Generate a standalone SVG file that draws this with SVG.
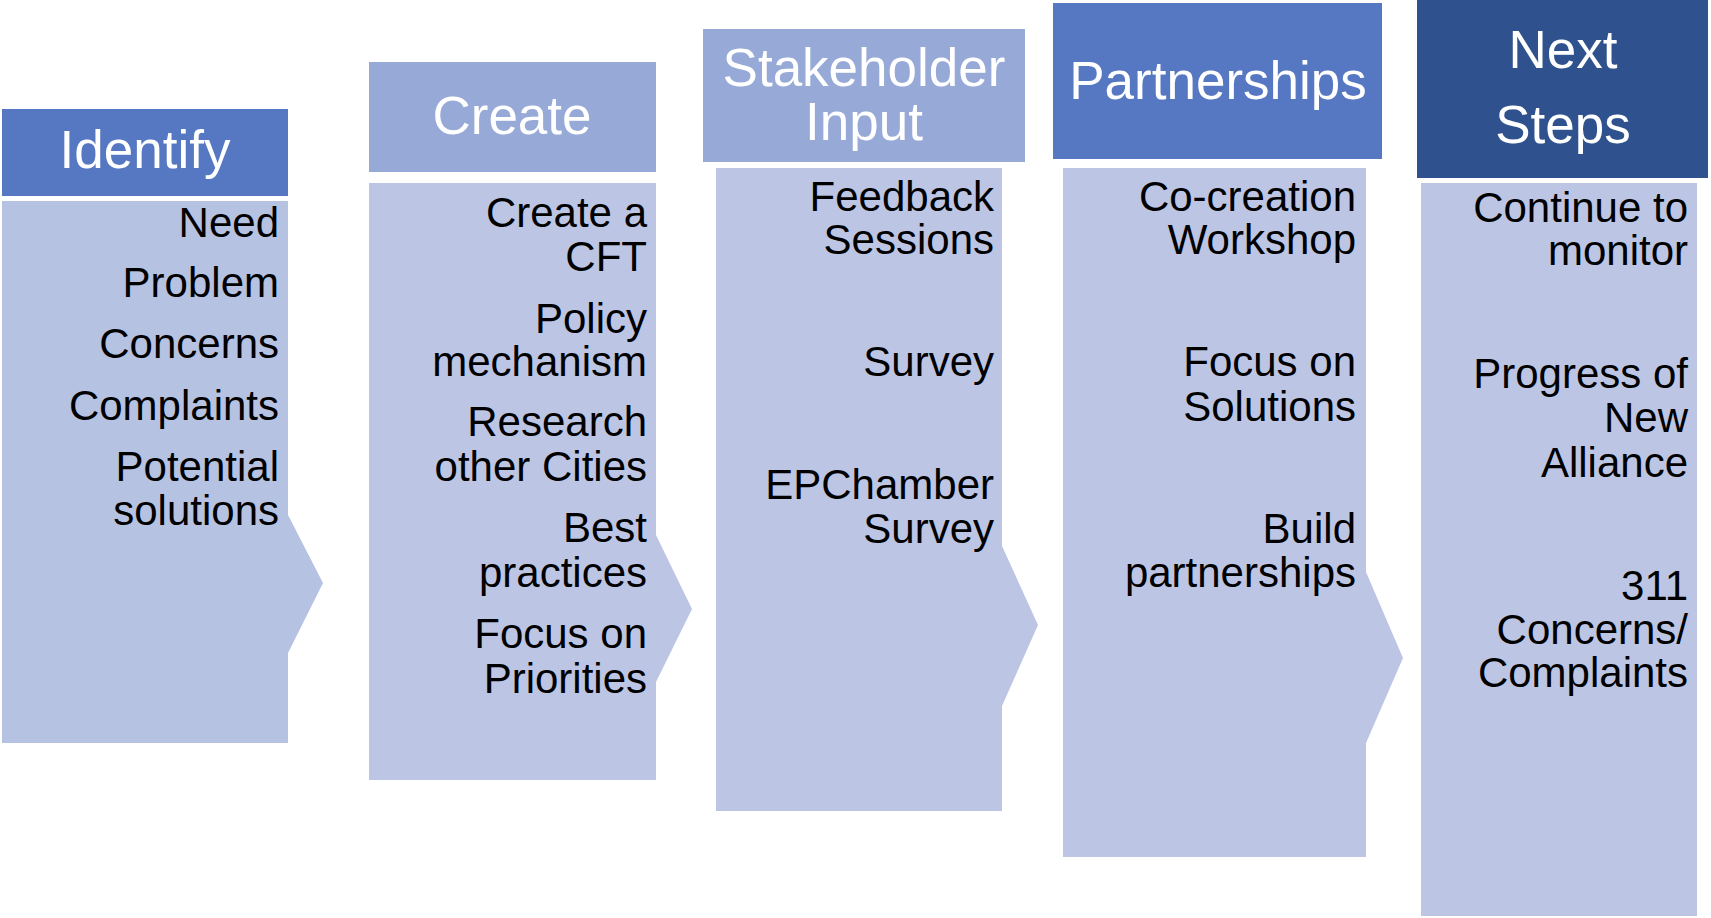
<svg xmlns="http://www.w3.org/2000/svg" width="1711" height="918" viewBox="0 0 1711 918">
<style>
.hdrA{fill:#5677c1}
.hdrB{fill:#97a9d6}
.hdrC{fill:#2f528f}
.body{fill:#bcc6e4}
.body1{fill:#b6c2e2}
.ht{font-family:"Liberation Sans",Arial,sans-serif;font-size:53px;fill:#ffffff;text-anchor:middle}
.bt{font-family:"Liberation Sans",Arial,sans-serif;font-size:42px;fill:#000000;text-anchor:end}
</style>
<rect width="1711" height="918" fill="#ffffff"/>
<g id="connectors"></g>
<g id="identify">
  <rect class="hdrA" x="2" y="109" width="286" height="87"/>
  <text class="ht" x="145" y="168">Identify</text>
  <path class="body1" d="M2,201 H288 V515 L323,583 L288,653 V743 H2 Z"/>
  <text class="bt" x="279" y="237">Need</text>
  <text class="bt" x="279" y="297">Problem</text>
  <text class="bt" x="279" y="358">Concerns</text>
  <text class="bt" x="279" y="420">Complaints</text>
  <text class="bt" x="279" y="481">Potential</text>
  <text class="bt" x="279" y="525">solutions</text>
</g>
<g id="create">
  <rect class="hdrB" x="369" y="62" width="287" height="110"/>
  <text class="ht" x="512" y="134">Create</text>
  <path class="body" d="M369,183 H656 V535 L692,609 L656,682 V780 H369 Z"/>
  <text class="bt" x="647" y="227">Create a</text>
  <text class="bt" x="647" y="271">CFT</text>
  <text class="bt" x="647" y="333">Policy</text>
  <text class="bt" x="647" y="376">mechanism</text>
  <text class="bt" x="647" y="436">Research</text>
  <text class="bt" x="647" y="481">other Cities</text>
  <text class="bt" x="647" y="542">Best</text>
  <text class="bt" x="647" y="587">practices</text>
  <text class="bt" x="647" y="648">Focus on</text>
  <text class="bt" x="647" y="693">Priorities</text>
</g>
<g id="stakeholder">
  <rect class="hdrB" x="703" y="29" width="322" height="133"/>
  <text class="ht" x="864" y="86">Stakeholder</text>
  <text class="ht" x="864" y="140">Input</text>
  <path class="body" d="M716,168 H1002 V546 L1038,625 L1002,706 V811 H716 Z"/>
  <text class="bt" x="994" y="211">Feedback</text>
  <text class="bt" x="994" y="254">Sessions</text>
  <text class="bt" x="994" y="376">Survey</text>
  <text class="bt" x="994" y="499">EPChamber</text>
  <text class="bt" x="994" y="543">Survey</text>
</g>
<g id="partnerships">
  <rect class="hdrA" x="1053" y="3" width="329" height="156"/>
  <text class="ht" x="1218" y="99">Partnerships</text>
  <path class="body" d="M1063,168 H1366 V572 L1403,658 L1366,743 V857 H1063 Z"/>
  <text class="bt" x="1356" y="211">Co-creation</text>
  <text class="bt" x="1356" y="254">Workshop</text>
  <text class="bt" x="1356" y="376">Focus on</text>
  <text class="bt" x="1356" y="421">Solutions</text>
  <text class="bt" x="1356" y="543">Build</text>
  <text class="bt" x="1356" y="587">partnerships</text>
</g>
<g id="next-steps">
  <rect class="hdrC" x="1417" y="0" width="291" height="178"/>
  <text class="ht" x="1563" y="68">Next</text>
  <text class="ht" x="1563" y="143">Steps</text>
  <rect class="body" x="1421" y="183" width="276" height="733"/>
  <text class="bt" x="1688" y="222">Continue to</text>
  <text class="bt" x="1688" y="265">monitor</text>
  <text class="bt" x="1688" y="388">Progress of</text>
  <text class="bt" x="1688" y="432">New</text>
  <text class="bt" x="1688" y="477">Alliance</text>
  <text class="bt" x="1688" y="600">311 </text>
  <text class="bt" x="1688" y="644">Concerns/</text>
  <text class="bt" x="1688" y="687">Complaints</text>
</g>
</svg>
